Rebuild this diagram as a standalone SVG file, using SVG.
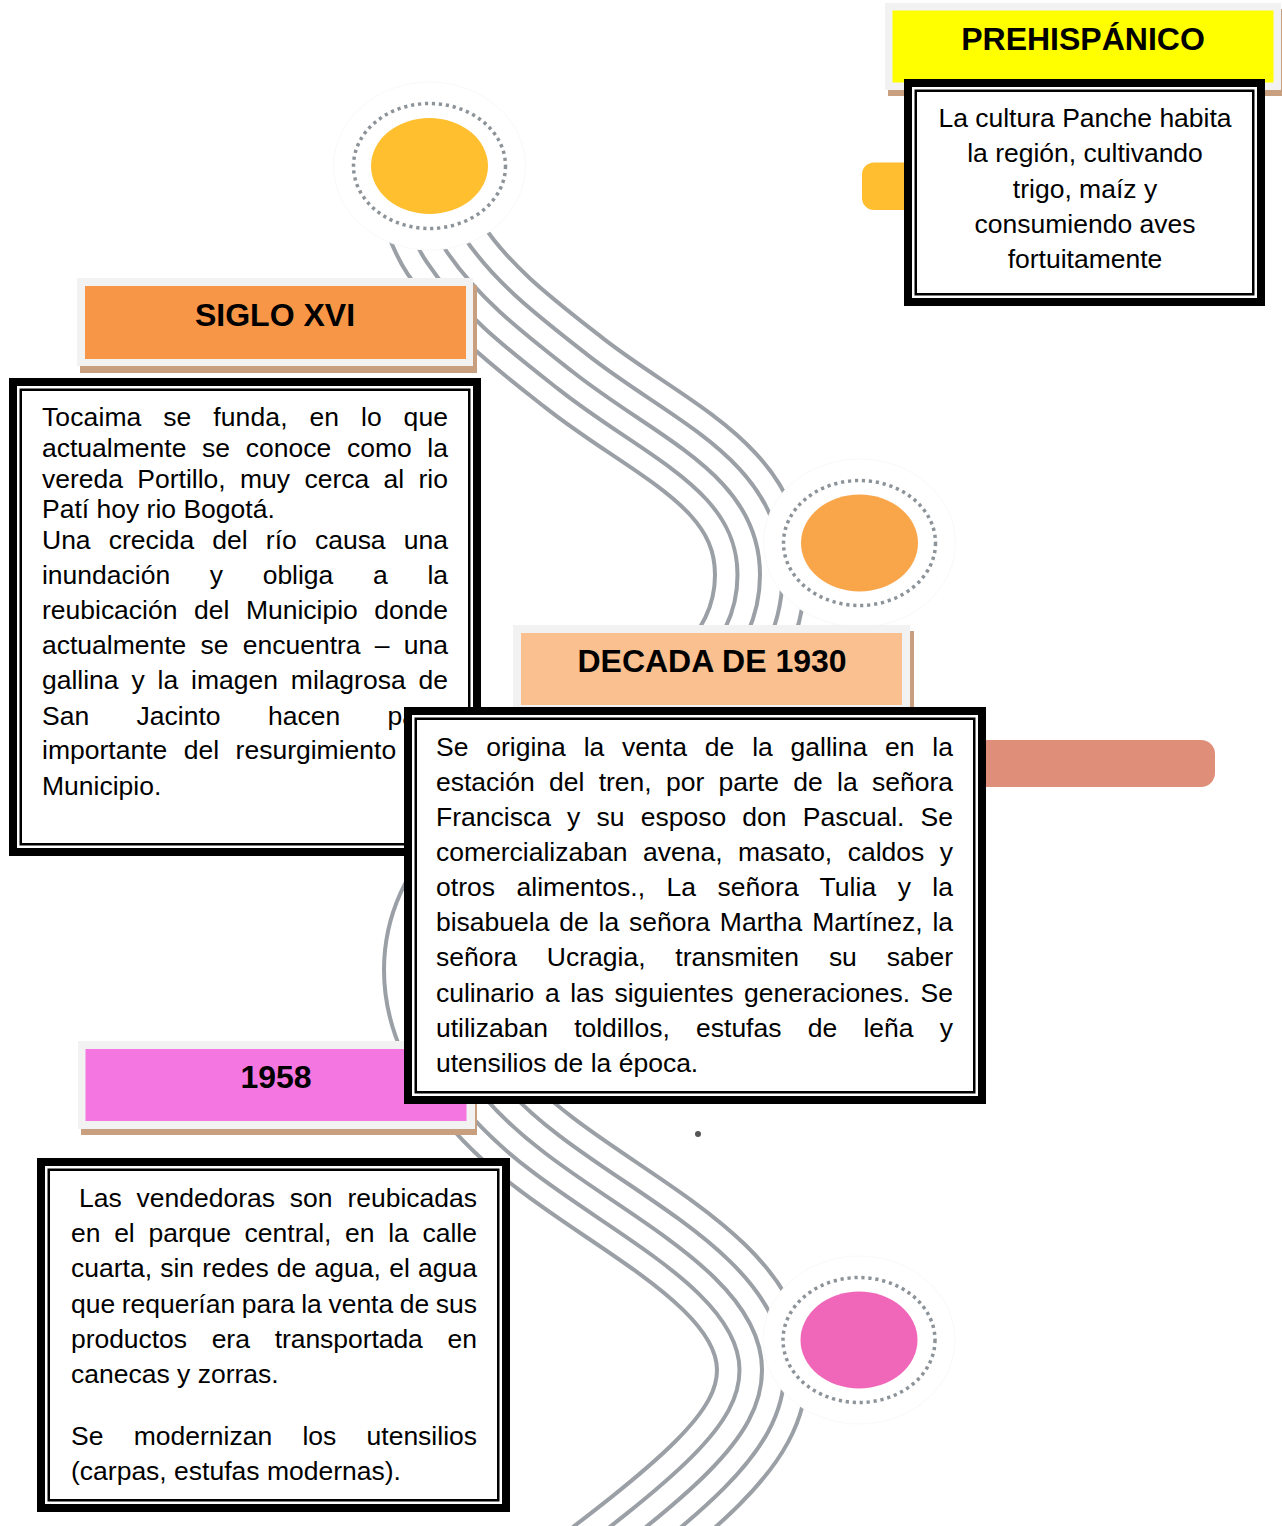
<svg xmlns="http://www.w3.org/2000/svg" width="1282" height="1526" viewBox="0 0 1282 1526">
<defs>
<style>
.b{font-family:"Liberation Sans",Arial,sans-serif;font-size:26.5px;fill:#000}
.c{text-anchor:middle}
.h{font-family:"Liberation Sans",Arial,sans-serif;font-size:32px;font-weight:bold;fill:#000;text-anchor:middle}
.frame{fill:#F2F2F2}
.shadow{fill:#C8A080}
.outer{fill:#fff;stroke:#000;stroke-width:8}
.inner{fill:none;stroke:#000;stroke-width:2.5}
.halo{fill:#fff;stroke:#F9F9F9;stroke-width:1}
.ring{fill:none;stroke:#8C9399;stroke-width:3.5;stroke-dasharray:3.2 3.8}
.g{fill:none;stroke:#9AA0A5}
.w{fill:none;stroke:#fff}
</style>
<path id="wave" d="M 412,170 C 422,193 431,228 445,249 C 478,299 526,335 573,372 C 659,440 760,475 760,575 C 760,759 429,786 429,970 C 429,1040 481,1104.5 545,1153 C 632,1220 762,1280 762,1370 C 762,1440 690,1495 545,1605"/>
</defs>
<rect width="1282" height="1526" fill="#fff"/>
<g id="connectors">
<use href="#wave" class="g" stroke-width="94"/>
<use href="#wave" class="w" stroke-width="86"/>
<use href="#wave" class="g" stroke-width="49"/>
<use href="#wave" class="w" stroke-width="41"/>
<use href="#wave" class="g" stroke-width="4"/>
</g>
<g id="circle-prehispanico">
<ellipse class="halo" cx="429.5" cy="166" rx="96" ry="84"/>
<ellipse class="ring" cx="429.5" cy="166" rx="76" ry="62.5"/>
<ellipse cx="429.5" cy="166" rx="58.5" ry="48" fill="#FFBF2F"/>
</g>
<g id="circle-1930">
<ellipse class="halo" cx="859.5" cy="543" rx="96" ry="84"/>
<ellipse class="ring" cx="859.5" cy="543" rx="76" ry="62.5"/>
<ellipse cx="859.5" cy="543" rx="58.5" ry="48.5" fill="#F9A64A"/>
</g>
<g id="circle-1958">
<ellipse class="halo" cx="859" cy="1340" rx="96" ry="84"/>
<ellipse class="ring" cx="859" cy="1340" rx="76" ry="62.5"/>
<ellipse cx="859" cy="1340" rx="58.5" ry="48.5" fill="#F066B9"/>
</g>
<g id="tab-prehispanico"><rect x="862" y="162.5" width="60" height="47.5" rx="12" fill="#FFBE2F"/></g>
<g id="tab-1930"><rect x="960" y="740" width="255" height="47" rx="14" fill="#DF8E79"/></g>
<g id="dot"><circle cx="698" cy="1134" r="3" fill="#555"/></g>
<g id="header-prehispanico">
<rect class="shadow" x="888" y="9" width="396" height="87"/>
<rect class="frame" x="885" y="3" width="396" height="87"/>
<rect x="892.5" y="10.5" width="381" height="72" fill="#FFFF00"/>
<text class="h" x="1083" y="49.5">PREHISPÁNICO</text>
</g>
<g id="body-prehispanico">
<rect class="outer" x="908" y="83" width="353" height="219"/>
<rect class="inner" x="915.75" y="90.75" width="337.5" height="203.5"/>
<text class="b c" x="1085" y="127">La cultura Panche habita</text>
<text class="b c" x="1085" y="162.3">la región, cultivando</text>
<text class="b c" x="1085" y="197.5">trigo, maíz y</text>
<text class="b c" x="1085" y="233">consumiendo aves</text>
<text class="b c" x="1085" y="268.3">fortuitamente</text>
</g>
<g id="header-siglo-xvi">
<rect class="shadow" x="80" y="285" width="397" height="88"/>
<rect class="frame" x="77" y="278" width="396" height="88"/>
<rect x="85" y="286" width="381" height="73" fill="#F79646"/>
<text class="h" x="275" y="325.5">SIGLO XVI</text>
</g>
<g id="body-siglo-xvi">
<rect class="outer" x="13" y="382" width="464" height="470"/>
<rect class="inner" x="20.75" y="389.75" width="448.5" height="454.5"/>
<text class="b" x="42" y="426" word-spacing="14.3" textLength="406" lengthAdjust="spacing">Tocaima se funda, en lo que</text>
<text class="b" x="42" y="457" word-spacing="8.3" textLength="406" lengthAdjust="spacing">actualmente se conoce como la</text>
<text class="b" x="42" y="487.5" word-spacing="7" textLength="406" lengthAdjust="spacing">vereda Portillo, muy cerca al rio</text>
<text class="b" x="42" y="517.5">Patí hoy rio Bogotá.</text>
<text class="b" x="42" y="548.5" word-spacing="10.8" textLength="406" lengthAdjust="spacing">Una crecida del río causa una</text>
<text class="b" x="42" y="584" word-spacing="32.3" textLength="406" lengthAdjust="spacing">inundación y obliga a la</text>
<text class="b" x="42" y="619" word-spacing="9.2" textLength="406" lengthAdjust="spacing">reubicación del Municipio donde</text>
<text class="b" x="42" y="654" word-spacing="6.9" textLength="406" lengthAdjust="spacing">actualmente se encuentra – una</text>
<text class="b" x="42" y="689" word-spacing="5.5" textLength="406" lengthAdjust="spacing">gallina y la imagen milagrosa de</text>
<text class="b" x="42" y="724.5" word-spacing="40" textLength="406" lengthAdjust="spacing">San Jacinto hacen parte</text>
<text class="b" x="42" y="759" word-spacing="9.1" textLength="406" lengthAdjust="spacing">importante del resurgimiento del</text>
<text class="b" x="42" y="794.5">Municipio.</text>
</g>
<g id="header-1958">
<rect class="shadow" x="81" y="1047" width="396" height="88"/>
<rect class="frame" x="78" y="1041" width="397" height="88"/>
<rect x="85.5" y="1049" width="381" height="72" fill="#F476E0"/>
<text class="h" x="276" y="1088">1958</text>
</g>
<g id="header-1930">
<rect class="shadow" x="517" y="631" width="397" height="88"/>
<rect class="frame" x="513" y="625" width="397" height="88"/>
<rect x="521" y="633" width="381" height="72" fill="#FAC090"/>
<text class="h" x="712" y="672">DECADA DE 1930</text>
</g>
<g id="body-1930">
<rect class="outer" x="408" y="711" width="574" height="389"/>
<rect class="inner" x="415.75" y="718.75" width="558.5" height="373.5"/>
<text class="b" x="436" y="755.5" word-spacing="10.5" textLength="517" lengthAdjust="spacing">Se origina la venta de la gallina en la</text>
<text class="b" x="436" y="790.6" word-spacing="6.9" textLength="517" lengthAdjust="spacing">estación del tren, por parte de la señora</text>
<text class="b" x="436" y="825.8" word-spacing="8.8" textLength="517" lengthAdjust="spacing">Francisca y su esposo don Pascual. Se</text>
<text class="b" x="436" y="860.9" word-spacing="8.1" textLength="517" lengthAdjust="spacing">comercializaban avena, masato, caldos y</text>
<text class="b" x="436" y="896.1" word-spacing="14" textLength="517" lengthAdjust="spacing">otros alimentos., La señora Tulia y la</text>
<text class="b" x="436" y="931.2" word-spacing="2.5" textLength="517" lengthAdjust="spacing">bisabuela de la señora Martha Martínez, la</text>
<text class="b" x="436" y="966.4" word-spacing="22.5" textLength="517" lengthAdjust="spacing">señora Ucragia, transmiten su saber</text>
<text class="b" x="436" y="1001.5" word-spacing="3.3" textLength="517" lengthAdjust="spacing">culinario a las siguientes generaciones. Se</text>
<text class="b" x="436" y="1036.7" word-spacing="18.9" textLength="517" lengthAdjust="spacing">utilizaban toldillos, estufas de leña y</text>
<text class="b" x="436" y="1071.8">utensilios de la época.</text>
</g>
<g id="body-1958">
<rect class="outer" x="41" y="1162" width="465" height="346"/>
<rect class="inner" x="48.75" y="1169.75" width="449.5" height="330.5"/>
<text class="b" x="79" y="1207" word-spacing="7.5" textLength="398" lengthAdjust="spacing">Las vendedoras son reubicadas</text>
<text class="b" x="71" y="1242" word-spacing="6.3" textLength="406" lengthAdjust="spacing">en el parque central, en la calle</text>
<text class="b" x="71" y="1277" word-spacing="0.9" textLength="406" lengthAdjust="spacing">cuarta, sin redes de agua, el agua</text>
<text class="b" x="71" y="1312.5" word-spacing="-0.8" textLength="406" lengthAdjust="spacing">que requerían para la venta de sus</text>
<text class="b" x="71" y="1347.5" word-spacing="17.5" textLength="406" lengthAdjust="spacing">productos era transportada en</text>
<text class="b" x="71" y="1383">canecas y zorras.</text>
<text class="b" x="71" y="1444.5" word-spacing="22.9" textLength="406" lengthAdjust="spacing">Se modernizan los utensilios</text>
<text class="b" x="71" y="1480">(carpas, estufas modernas).</text>
</g>
</svg>
